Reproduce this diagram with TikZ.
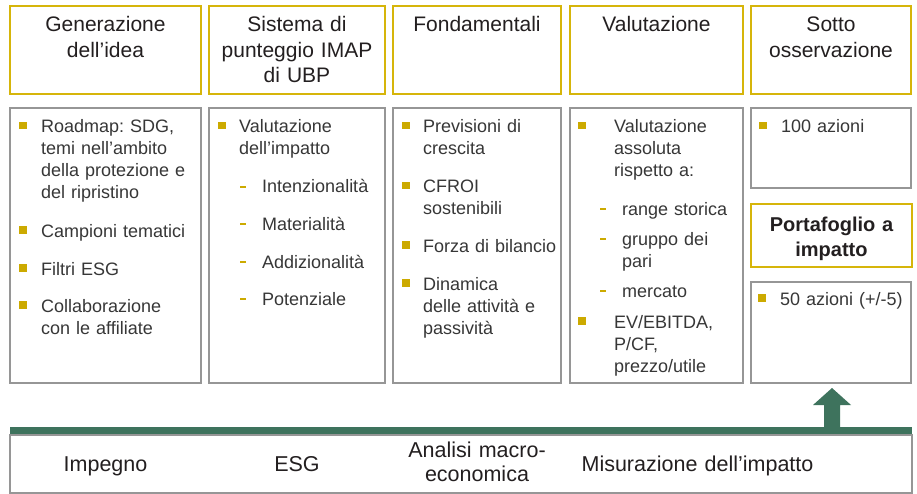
\documentclass[tikz,border=0pt]{standalone}
\usepackage{fontspec}
\setmainfont{Liberation Sans}
\usetikzlibrary{calc}
\frenchspacing

\definecolor{ubpgold}{RGB}{214,181,10}
\definecolor{bulgold}{RGB}{204,170,0}
\definecolor{boxgray}{RGB}{150,150,150}
\definecolor{ubpgreen}{RGB}{62,115,93}
\definecolor{txtdark}{RGB}{35,31,32}
\definecolor{txtbody}{RGB}{55,55,55}

\tikzset{
  headbox/.style={draw=ubpgold, line width=1.5pt},
  listbox/.style={draw=boxgray, line width=1.1pt},
  headtxt/.style={font=\fontsize{21}{25.5}\selectfont, text=txtdark, align=center,
    text width=165, anchor=base, inner sep=0pt},
  item/.style={font=\fontsize{18}{22}\selectfont, text=txtbody, align=left,
    text width=160, anchor=base west, inner sep=0pt},
  bartxt/.style={font=\fontsize{21.5}{24}\selectfont, text=txtdark, align=center,
    text width=260, anchor=base, inner sep=0pt}
}

% gold square in front of an item, dash in front of a sub item
\newcommand{\sqbullet}[2][22]{\fill[bulgold] ($(#2.base west)+(-#1,-11)$) rectangle ++(7.5,7.5);}
\newcommand{\subdash}[1]{\draw[bulgold, line width=1.4pt] ($(#1.base west)+(-22,-6)$) -- ++(6,0);}

\begin{document}
\begin{tikzpicture}[x=1pt, y=-1pt]
    % page with the margins of the reference
    \fill[white] (0,0) rectangle (917,494);
    \useasboundingbox (0,0) rectangle (917,494);

    % Header boxes
    \draw[headbox] (10,6) rectangle (201,94);
    \draw[headbox] (209,6) rectangle (385,94);
    \draw[headbox] (393,6) rectangle (561,94);
    \draw[headbox] (570,6) rectangle (743,94);
    \draw[headbox] (751,6) rectangle (911,94);

    \node[headtxt] (hgen) at (105.5,32) {Generazione\\dell'idea};
    \node[headtxt] (hpun) at (297,32) {Sistema di\\punteggio IMAP\\di UBP};
    \node[headtxt] (hfon) at (477,32) {Fondamentali};
    \node[headtxt] (hval) at (656.5,32) {Valutazione};
    \node[headtxt] (hsot) at (831,32) {Sotto\\osservazione};

    % List boxes
    \draw[listbox] (10,108) rectangle (201,383);
    \draw[listbox] (209,108) rectangle (385,383);
    \draw[listbox] (393,108) rectangle (561,383);
    \draw[listbox] (570,108) rectangle (743,383);
    \draw[listbox] (751,108) rectangle (911,188);
    \draw[headbox] (751,204) rectangle (912,267);
    \draw[listbox] (751,282) rectangle (911,383);

    % Generazione dell'idea
    \node[item] (roadmap) at (41,133) {Roadmap: SDG,\\temi nell'ambito\\della protezione e\\del ripristino};
    \node[item] (campioni) at (41,237) {Campioni tematici};
    \node[item] (filtri) at (41,275) {Filtri ESG};
    \node[item] (collab) at (41,312) {Collaborazione\\con le affiliate};
    \sqbullet{roadmap} \sqbullet{campioni} \sqbullet{filtri} \sqbullet{collab}

    % Sistema di punteggio
    \node[item] (valimp) at (239,133) {Valutazione\\dell'impatto};
    \node[item] (intenz) at (262,193) {Intenzionalità};
    \node[item] (mater) at (262,230) {Materialità};
    \node[item] (addiz) at (262,268) {Addizionalità};
    \node[item] (poten) at (262,305) {Potenziale};
    \sqbullet[21]{valimp}
    \subdash{intenz} \subdash{mater} \subdash{addiz} \subdash{poten}

    % Fondamentali
    \node[item] (previs) at (423,133) {Previsioni di\\crescita};
    \node[item] (cfroi) at (423,193) {CFROI\\sostenibili};
    \node[item] (forza) at (423,252) {Forza di bilancio};
    \node[item] (dinam) at (423,290) {Dinamica\\delle attività e\\passività};
    \sqbullet[21]{previs} \sqbullet[21]{cfroi} \sqbullet[21]{forza} \sqbullet[21]{dinam}

    % Valutazione
    \node[item] (valass) at (614,133) {Valutazione\\assoluta\\rispetto a:};
    \node[item] (range) at (622,215) {range storica};
    \node[item] (gruppo) at (622,245) {gruppo dei\\pari};
    \node[item] (merc) at (622,297) {mercato};
    \node[item] (evebit) at (614,328) {EV/EBITDA,\\P/CF,\\prezzo/utile};
    \sqbullet[36]{valass} \sqbullet[36]{evebit}
    \subdash{range} \subdash{gruppo} \subdash{merc}

    % Sotto osservazione / portafoglio
    \node[item] (az100) at (781,133) {100 azioni};
    \node[font=\bfseries\fontsize{20}{25}\selectfont, text=txtdark, align=center,
      text width=150, anchor=base, inner sep=0pt] (portaf) at (831.5,231) {Portafoglio a\\impatto};
    \node[item] (az50) at (780,305) {50 azioni (+/-5)};
    \sqbullet{az100} \sqbullet{az50}

    % Bottom bar
    \fill[ubpgreen] (10,427) rectangle (912,435);
    \draw[listbox] (10,435) rectangle (912,493);
    \node[bartxt] (impegno) at (105.5,471) {Impegno};
    \node[bartxt] (esg) at (297,471) {ESG};
    \node[bartxt] (macro) at (477,457) {Analisi macro-\\economica};
    \node[bartxt] (misur) at (697.5,471) {Misurazione dell'impatto};

    % Arrow up to the portfolio
    \coordinate (arrbase) at (832,427);
    \coordinate (arrtip) at (832,388);
    \fill[ubpgreen] (arrbase) ++(-8,0) -- ++(0,-22) -- ++(-11,0) -- (arrtip)
        -- ++(19,17) -- ++(-11,0) -- ++(0,22) -- cycle;
\end{tikzpicture}
\end{document}
